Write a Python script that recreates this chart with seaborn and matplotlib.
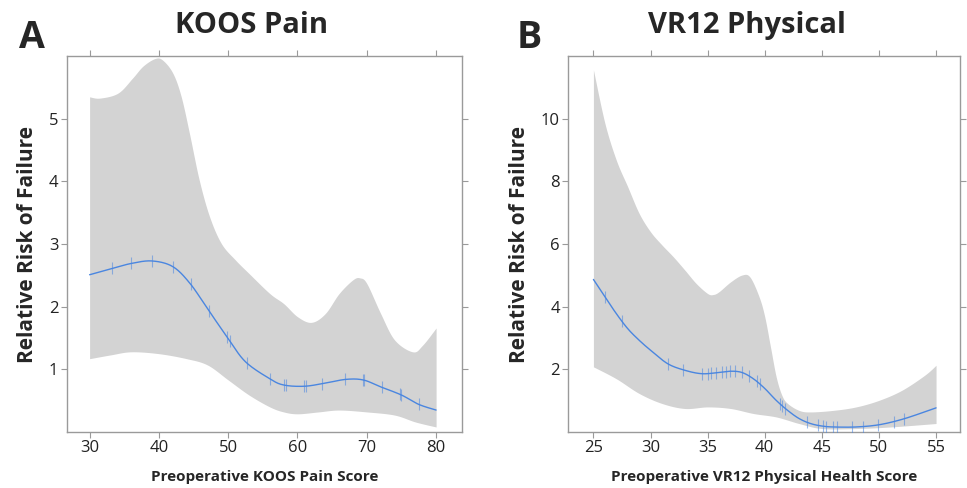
import numpy as np
import pandas as pd
import matplotlib
matplotlib.use("Agg")
import matplotlib.pyplot as plt
import seaborn as sns

sns.set_theme(style="white")
plt.rcParams['font.family'] = ['Open Sans', 'DejaVu Sans']

# Panel A - KOOS Pain
koos_x = [30, 33.3, 36, 39, 42, 44.5, 47, 50, 52.5, 56, 58, 61, 64, 67, 69.5, 72, 75, 77.5, 80]
koos_rr = [2.51, 2.61, 2.69, 2.73, 2.64, 2.37, 1.97, 1.49, 1.12, 0.85, 0.75, 0.73, 0.78, 0.84, 0.83, 0.72, 0.59, 0.44, 0.35]
koos_up_x = [30, 31.5, 34.1, 36.2, 37.7, 39.4, 40.5, 42, 43.2, 44.4, 45.8, 47.3, 49, 51, 53, 56, 58, 60, 62, 64, 66, 68, 69, 70, 72, 74, 76.6, 78, 80]
koos_up = [5.35, 5.33, 5.41, 5.65, 5.84, 5.96, 5.94, 5.73, 5.36, 4.77, 4.03, 3.44, 3.01, 2.75, 2.53, 2.21, 2.05, 1.84, 1.75, 1.89, 2.21, 2.43, 2.46, 2.37, 1.89, 1.47, 1.28, 1.38, 1.66]
koos_lo_x = [30, 33, 36, 40, 44, 47, 50, 53, 56, 58, 60, 63, 66, 70, 74, 77, 80]
koos_lo = [1.17, 1.23, 1.28, 1.25, 1.17, 1.07, 0.83, 0.59, 0.40, 0.32, 0.29, 0.32, 0.35, 0.32, 0.27, 0.16, 0.08]
koos_obs = [33.3, 36, 39, 42, 44.6, 47.2, 49.8, 50.2, 52.7, 56, 58, 58.3, 61, 61.2, 63.5, 66.8, 69.4, 69.6, 72.2, 74.8, 75, 77.5]

# Panel B - VR12 Physical
vr_x = [25, 26, 27, 28, 29, 30, 31.5, 33, 34.5, 36, 37, 38, 39, 40, 41, 42, 43, 44, 45, 46, 48, 50, 52, 54, 55]
vr_rr = [4.87, 4.32, 3.78, 3.30, 2.93, 2.61, 2.18, 1.97, 1.86, 1.90, 1.94, 1.90, 1.70, 1.39, 1.01, 0.69, 0.43, 0.27, 0.19, 0.16, 0.16, 0.23, 0.40, 0.64, 0.77]
vr_up_x = [25, 26, 27, 28, 29, 30, 31, 32, 33, 34, 35, 35.5, 36, 37, 38, 38.7, 39.5, 40, 40.5, 41, 41.5, 42, 43, 44, 46, 48, 50, 52, 54, 55]
vr_up = [11.56, 9.86, 8.68, 7.83, 6.98, 6.39, 5.97, 5.59, 5.17, 4.74, 4.42, 4.39, 4.48, 4.79, 5.01, 4.95, 4.32, 3.68, 2.72, 1.76, 1.17, 0.91, 0.69, 0.64, 0.69, 0.80, 1.01, 1.33, 1.81, 2.13]
vr_lo_x = [25, 27, 29, 31, 33, 35, 37, 39, 41, 43, 45, 48, 51, 55]
vr_lo = [2.08, 1.70, 1.23, 0.91, 0.75, 0.80, 0.75, 0.59, 0.48, 0.27, 0.11, 0.11, 0.16, 0.27]
vr_obs = [26, 27.5, 31.5, 32.8, 34.5, 35, 35.3, 35.7, 36.3, 36.6, 37, 37.4, 38, 38.6, 39.3, 39.6,
          41.3, 41.5, 41.8, 43.7, 44.7, 45.1, 45.4, 46, 46.3, 47.6, 48.6, 49.9, 51.3, 52.2]

LINE = "#4a86e0"
BAND = "#d3d3d3"
SPINE = "#9a9a9a"


def smooth(xs, ys, n=400):
    # Catmull-Rom curve through the points
    xs = np.asarray(xs, float)
    ys = np.asarray(ys, float)
    pts = []
    last = len(xs) - 1
    for i in range(last):
        i0, i3 = max(i - 1, 0), min(i + 2, last)
        x0, x1, x2, x3 = xs[i0], xs[i], xs[i + 1], xs[i3]
        y0, y1, y2, y3 = ys[i0], ys[i], ys[i + 1], ys[i3]
        for t in np.linspace(0, 1, 20, endpoint=False):
            t2, t3 = t * t, t * t * t
            px = 0.5 * (2 * x1 + (-x0 + x2) * t + (2 * x0 - 5 * x1 + 4 * x2 - x3) * t2 + (-x0 + 3 * x1 - 3 * x2 + x3) * t3)
            py = 0.5 * (2 * y1 + (-y0 + y2) * t + (2 * y0 - 5 * y1 + 4 * y2 - y3) * t2 + (-y0 + 3 * y1 - 3 * y2 + y3) * t3)
            pts.append((px, py))
    pts.append((xs[-1], ys[-1]))
    pts = np.array(pts)
    grid = np.linspace(xs[0], xs[-1], n)
    return np.interp(grid, pts[:, 0], pts[:, 1]), grid


def draw_panel(ax, x, rr, ux, up, lx, lo, obs, xlim, ylim, xticks, yticks, xlabel):
    y_up, grid = smooth(ux, up)
    y_lo, _ = smooth(lx, lo)
    y_rr, _ = smooth(x, rr)
    ax.fill_between(grid, y_lo, y_up, color=BAND, linewidth=0, zorder=1)
    df = pd.DataFrame({"x": grid, "rr": y_rr})
    sns.lineplot(data=df, x="x", y="rr", ax=ax, color=LINE, linewidth=1.0, zorder=3)
    obs_y = np.interp(obs, grid, y_rr)
    sns.scatterplot(x=obs, y=obs_y, ax=ax, marker="|", s=80, color=LINE, alpha=0.55,
                    linewidth=0.8, zorder=4)
    ax.set_xlim(*xlim)
    ax.set_ylim(*ylim)
    ax.set_xticks(xticks)
    ax.set_yticks(yticks)
    ax.tick_params(which="both", direction="out", length=4, width=0.8, color=SPINE,
                   top=True, right=True, bottom=True, left=True, labelsize=12,
                   labelcolor="#222222", pad=2)
    for s in ax.spines.values():
        s.set_color(SPINE)
        s.set_linewidth(1.0)
    ax.set_xlabel(xlabel, fontsize=11, fontweight="bold", labelpad=10)
    ax.set_ylabel("Relative Risk of Failure", fontsize=15, fontweight="bold", labelpad=8)


fig = plt.figure(figsize=(9.67, 4.88), dpi=100)
axA = fig.add_axes([0.069, 0.1148, 0.4085, 0.7702])
axB = fig.add_axes([0.5877, 0.1148, 0.4051, 0.7702])

draw_panel(axA, koos_x, koos_rr, koos_up_x, koos_up, koos_lo_x, koos_lo, koos_obs,
           (26.7, 83.7), (0, 6), [30, 40, 50, 60, 70, 80], [1, 2, 3, 4, 5],
           "Preoperative KOOS Pain Score")
draw_panel(axB, vr_x, vr_rr, vr_up_x, vr_up, vr_lo_x, vr_lo, vr_obs,
           (22.8, 57.1), (0, 12), [25, 30, 35, 40, 45, 50, 55], [2, 4, 6, 8, 10],
           "Preoperative VR12 Physical Health Score")

fig.text(0.26, 0.947, "KOOS Pain", fontsize=21, fontweight="bold", ha="center", va="center")
fig.text(0.772, 0.947, "VR12 Physical", fontsize=21, fontweight="bold", ha="center", va="center")
fig.text(0.033, 0.922, "A", fontsize=27, fontweight="bold", ha="center", va="center")
fig.text(0.547, 0.922, "B", fontsize=27, fontweight="bold", ha="center", va="center")

fig.savefig("out.png", dpi=100)
